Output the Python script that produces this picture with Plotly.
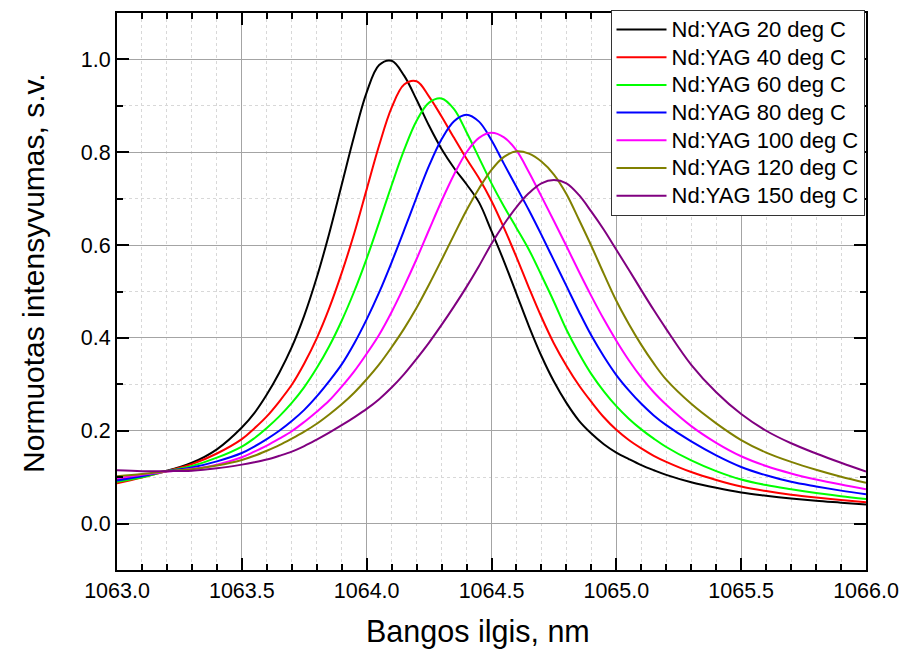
import plotly.graph_objects as go

# ---- data ----
wavelength_nm = [1063.0, 1063.1, 1063.2, 1063.3, 1063.4, 1063.5,
                 1063.55, 1063.6, 1063.65, 1063.7, 1063.75, 1063.8, 1063.85, 1063.9, 1063.95,
                 1064.0, 1064.05, 1064.1, 1064.15, 1064.2, 1064.25, 1064.3, 1064.35, 1064.4, 1064.45,
                 1064.5, 1064.55, 1064.6, 1064.65, 1064.7, 1064.75, 1064.8, 1064.85, 1064.9, 1064.95,
                 1065.0, 1065.05, 1065.1, 1065.15, 1065.2,
                 1065.3, 1065.4, 1065.5, 1065.6, 1065.7, 1065.8, 1065.9, 1066.0]

int_20C = [0.095, 0.104, 0.114, 0.131, 0.160, 0.207,
           0.238, 0.278, 0.325, 0.380, 0.448, 0.530, 0.625, 0.730, 0.835,
           0.929, 0.988, 0.997, 0.965, 0.913, 0.857, 0.807, 0.766, 0.731, 0.692,
           0.630, 0.565, 0.495, 0.425, 0.361, 0.306, 0.260, 0.222, 0.194, 0.171,
           0.153, 0.139, 0.126, 0.115, 0.105,
           0.089, 0.077, 0.067, 0.060, 0.054, 0.049, 0.045, 0.041]

int_40C = [0.087, 0.099, 0.113, 0.128, 0.151, 0.182,
           0.205, 0.231, 0.263, 0.299, 0.345, 0.399, 0.464, 0.540, 0.625,
           0.720, 0.815, 0.896, 0.946, 0.953, 0.920, 0.877, 0.831, 0.786, 0.744,
           0.695, 0.637, 0.574, 0.508, 0.445, 0.388, 0.340, 0.298, 0.262, 0.229,
           0.202, 0.180, 0.162, 0.146, 0.133,
           0.111, 0.094, 0.080, 0.070, 0.062, 0.056, 0.051, 0.046]

int_60C = [0.090, 0.100, 0.113, 0.124, 0.142, 0.166,
           0.184, 0.206, 0.231, 0.260, 0.294, 0.335, 0.382, 0.437, 0.500,
           0.571, 0.649, 0.729, 0.805, 0.868, 0.907, 0.916, 0.893, 0.843, 0.788,
           0.733, 0.683, 0.637, 0.590, 0.535, 0.478, 0.418, 0.367, 0.322, 0.285,
           0.253, 0.226, 0.203, 0.183, 0.165,
           0.136, 0.113, 0.095, 0.083, 0.074, 0.066, 0.059, 0.053]

int_80C = [0.093, 0.102, 0.113, 0.121, 0.134, 0.152,
           0.166, 0.182, 0.200, 0.221, 0.245, 0.274, 0.307, 0.343, 0.388,
           0.440, 0.498, 0.563, 0.632, 0.703, 0.771, 0.828, 0.867, 0.881, 0.866,
           0.826, 0.775, 0.725, 0.675, 0.622, 0.567, 0.512, 0.457, 0.405, 0.360,
           0.320, 0.287, 0.258, 0.233, 0.212,
           0.177, 0.147, 0.122, 0.104, 0.090, 0.080, 0.071, 0.063]

int_100C = [0.097, 0.105, 0.112, 0.118, 0.127, 0.143,
            0.155, 0.168, 0.183, 0.199, 0.219, 0.241, 0.265, 0.295, 0.328,
            0.366, 0.407, 0.456, 0.511, 0.570, 0.633, 0.695, 0.752, 0.800, 0.831,
            0.842, 0.832, 0.804, 0.757, 0.705, 0.652, 0.598, 0.543, 0.490, 0.440,
            0.394, 0.352, 0.315, 0.283, 0.256,
            0.210, 0.174, 0.145, 0.124, 0.108, 0.095, 0.084, 0.074]

int_120C = [0.102, 0.107, 0.113, 0.117, 0.125, 0.137,
            0.146, 0.157, 0.169, 0.183, 0.198, 0.215, 0.235, 0.257, 0.282,
            0.311, 0.343, 0.380, 0.420, 0.465, 0.515, 0.568, 0.622, 0.675, 0.722,
            0.762, 0.790, 0.802, 0.797, 0.780, 0.752, 0.710, 0.655, 0.598, 0.538,
            0.480, 0.430, 0.385, 0.345, 0.310,
            0.258, 0.216, 0.180, 0.153, 0.133, 0.116, 0.101, 0.088]

int_150C = [0.115, 0.113, 0.113, 0.114, 0.119, 0.127,
            0.132, 0.138, 0.146, 0.155, 0.167, 0.181, 0.196, 0.212, 0.229,
            0.247, 0.268, 0.293, 0.322, 0.355, 0.390, 0.428, 0.468, 0.510, 0.555,
            0.603, 0.645, 0.682, 0.712, 0.733, 0.740, 0.733, 0.708, 0.672, 0.633,
            0.590, 0.547, 0.503, 0.460, 0.419,
            0.342, 0.283, 0.236, 0.200, 0.173, 0.151, 0.131, 0.112]

series_names = ["Nd:YAG 20 deg C", "Nd:YAG 40 deg C", "Nd:YAG 60 deg C", "Nd:YAG 80 deg C",
                "Nd:YAG 100 deg C", "Nd:YAG 120 deg C", "Nd:YAG 150 deg C"]
series_colors = ["#000000", "#FF0000", "#00FF00", "#0000FF", "#FF00FF", "#808000", "#800080"]
series_values = [int_20C, int_40C, int_60C, int_80C, int_100C, int_120C, int_150C]

x_ticks = [1063.0, 1063.5, 1064.0, 1064.5, 1065.0, 1065.5, 1066.0]
y_ticks = [0.0, 0.2, 0.4, 0.6, 0.8, 1.0]
x_title = "Bangos ilgis, nm"
y_title = "Normuotas intensyvumas, s.v."

FONT = "Arial, 'Liberation Sans', sans-serif"

fig = go.Figure()
for name, col, ys in zip(series_names, series_colors, series_values):
    fig.add_trace(go.Scatter(x=wavelength_nm, y=ys, mode="lines",
                             name='<span style="font-size:22px">' + name + '</span>',
                             line=dict(color=col, width=2, shape="spline", smoothing=1.0)))

axis_common = dict(
    showline=True, linewidth=2, linecolor="black", mirror="allticks",
    ticks="inside", ticklen=12, tickwidth=2, tickcolor="black",
    showgrid=True, gridcolor="#A4A4A4", gridwidth=1, zeroline=False,
    tickfont=dict(family=FONT, size=21.5, color="black"),
    tickformat=".1f",
)

fig.update_xaxes(
    range=[1063.0, 1066.0], tickvals=x_ticks,
    minor=dict(dtick=0.1, tick0=1063.0, ticks="inside", ticklen=6, tickwidth=2, tickcolor="black",
               showgrid=True, gridcolor="#D8D8D8", griddash="dot", gridwidth=1),
    **axis_common,
)
fig.update_yaxes(
    range=[-0.1, 1.1], tickvals=y_ticks,
    minor=dict(dtick=0.1, tick0=0.0, ticks="inside", ticklen=6, tickwidth=2, tickcolor="black",
               showgrid=True, gridcolor="#D8D8D8", griddash="dot", gridwidth=1),
    **axis_common,
)

fig.add_annotation(text=x_title, xref="paper", yref="paper", x=0.482, y=-0.111,
                   xanchor="center", yanchor="middle", showarrow=False,
                   font=dict(family=FONT, size=30.5, color="black"))
fig.add_annotation(text=y_title, xref="paper", yref="paper", x=-0.1124, y=0.533,
                   xanchor="center", yanchor="middle", showarrow=False, textangle=-90,
                   font=dict(family=FONT, size=30, color="black"))

fig.update_layout(
    width=909, height=650,
    margin=dict(l=117, r=36, t=10, b=80),
    paper_bgcolor="white", plot_bgcolor="white",
    font=dict(family=FONT, color="black"),
    legend=dict(x=0.998, xanchor="right", y=1.006, yanchor="top",
                bgcolor="white", bordercolor="#333333", borderwidth=1,
                font=dict(family=FONT, size=19, color="black"),
                itemwidth=50, tracegroupgap=0),
    showlegend=True,
)

fig.write_html("out.html")
